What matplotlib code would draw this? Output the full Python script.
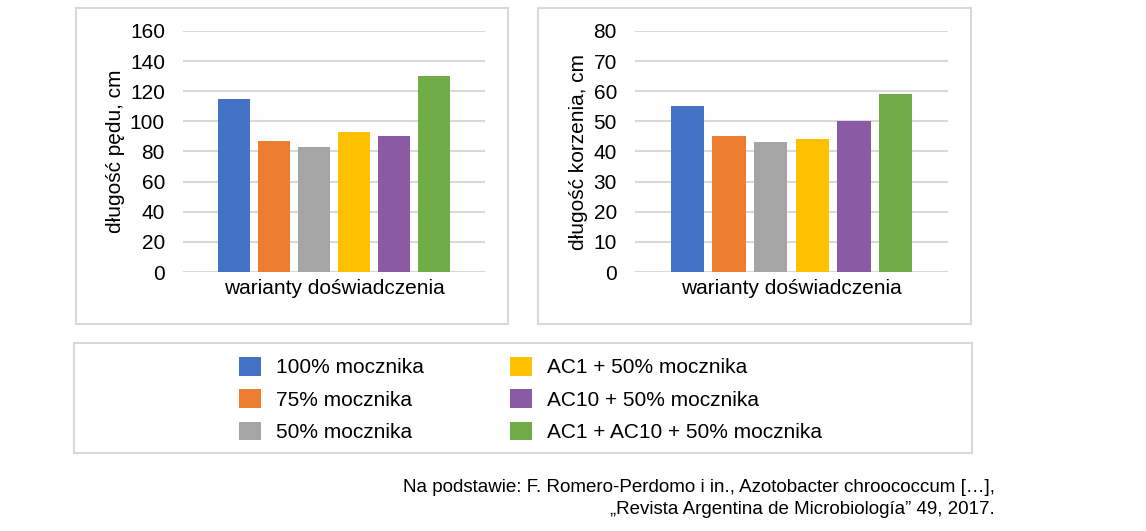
import matplotlib
matplotlib.use("Agg")
import matplotlib.pyplot as plt
import numpy as np
from matplotlib.patches import Patch, Rectangle

plt.rcParams["font.family"] = ["Liberation Sans", "DejaVu Sans"]

variants = ["100% mocznika", "75% mocznika", "50% mocznika",
            "AC1 + 50% mocznika", "AC10 + 50% mocznika", "AC1 + AC10 + 50% mocznika"]
colors = ["#4472c4", "#ed7d31", "#a5a5a5", "#ffc000", "#8a5aa5", "#70ad47"]
shoot_len = [115, 87, 83, 93, 90, 130]
root_len = [55, 45, 43, 44, 50, 59]
shoot_ticks = [0, 20, 40, 60, 80, 100, 120, 140, 160]
root_ticks = [0, 10, 20, 30, 40, 50, 60, 70, 80]

W, H = 1146, 531
FS = 15
fig = plt.figure(figsize=(W / 100, H / 100), dpi=100)


def px_rect(x0, y0, x1, y1):
    # pixel box (top-left origin) -> figure fraction [l, b, w, h]
    return [x0 / W, 1 - y1 / H, (x1 - x0) / W, (y1 - y0) / H]


def frame(x0, y0, x1, y1):
    l, b, w, h = px_rect(x0, y0, x1, y1)
    fig.patches.append(Rectangle((l, b), w, h, transform=fig.transFigure,
                                 facecolor="none", edgecolor="#d9d9d9", linewidth=1.5))


def bar_panel(rect, values, ticks, ylabel, label_x):
    ax = fig.add_axes(px_rect(*rect))
    x = np.arange(len(values))
    ax.bar(x, values, width=0.8, color=colors, zorder=3)
    ax.set_xlim(-1.26, len(values) - 1 + 1.26)
    ax.set_ylim(ticks[0], ticks[-1])
    ax.set_yticks(ticks)
    ax.yaxis.grid(True, color="#d9d9d9", linewidth=1.5, zorder=0)
    ax.set_axisbelow(True)
    for s in ax.spines.values():
        s.set_visible(False)
    ax.tick_params(axis="y", length=0, pad=13, labelsize=FS, labelcolor="#000000")
    ax.set_xticks([])
    ax.set_xlabel("warianty doświadczenia", fontsize=FS, labelpad=5)
    ax.set_ylabel(ylabel, fontsize=FS, va="center")
    ax.yaxis.set_label_coords(label_x, 0.5)
    return ax


frame(76, 8, 508, 324)
frame(538, 8, 971, 324)
frame(74, 343, 972, 453)

bar_panel((183, 31, 485, 272), shoot_len, shoot_ticks, "długość pędu, cm", -0.223)
bar_panel((635, 31, 948, 272), root_len, root_ticks, "długość korzenia, cm", -0.18)

handles = [Patch(facecolor=c, edgecolor="none") for c in colors]
fig.legend(handles, variants, ncol=2, loc="center", bbox_to_anchor=(530.5 / W, 1 - 399.5 / H),
           frameon=False, fontsize=FS, handlelength=1.05, handleheight=1.0,
           handletextpad=0.72, labelspacing=0.57, columnspacing=4.1, borderpad=0)

src = ("Na podstawie: F. Romero-Perdomo i in., Azotobacter chroococcum […],\n"
       "„Revista Argentina de Microbiología” 49, 2017.")
fig.text(995 / W, 1 - 498.5 / H, src, ha="right", va="center", fontsize=13.5,
         linespacing=1.4, color="#000000")

fig.savefig("out.png", dpi=100)
